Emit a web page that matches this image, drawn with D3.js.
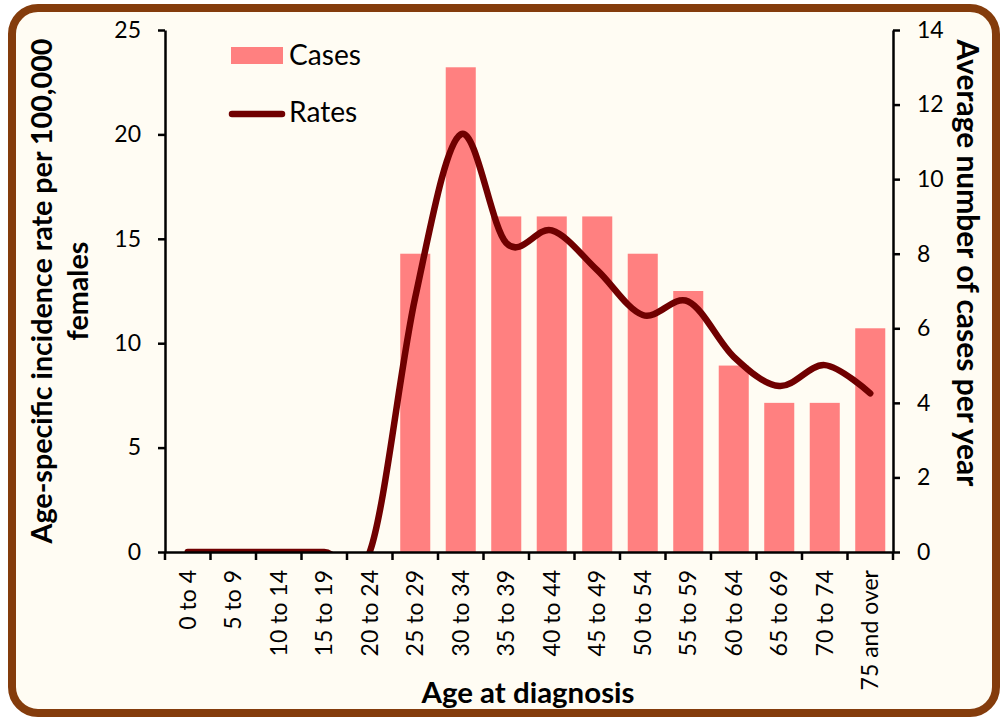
<!DOCTYPE html>
<html lang="en">
<head>
<meta charset="utf-8">
<title>Age-specific incidence and cases by age at diagnosis</title>
<script src="https://d3js.org/d3.v7.min.js"></script>
<style>
  body { margin: 0; background: #ffffff; }
  svg text { font-family: 'Lato', sans-serif; fill: #000; }
  .ttl { font-weight: bold; }
  .axis path, .axis line { stroke: #000; stroke-width: 2.5px; }
  .axis text { font-size: 23px; }
</style>
</head>
<body>
<div id="chart"></div>
<script>
// data
var ageGroups = ["0 to 4", "5 to 9", "10 to 14", "15 to 19", "20 to 24", "25 to 29",
  "30 to 34", "35 to 39", "40 to 44", "45 to 49", "50 to 54", "55 to 59",
  "60 to 64", "65 to 69", "70 to 74", "75 and over"];
var cases = [0, 0, 0, 0, 0, 8, 13, 9, 9, 9, 8, 7, 5, 4, 4, 6];
var rates = [0, 0, 0, 0, 0, 12.2, 20.0, 14.8, 15.4, 13.5, 11.35, 12.0, 9.35, 7.95, 8.95, 7.6];
var rateTicks = [0, 5, 10, 15, 20, 25];
var caseTicks = [0, 2, 4, 6, 8, 10, 12, 14];

var W = 1005, H = 718;
var plot = {left: 165, right: 893, top: 30, bottom: 552};

var svg = d3.select("#chart").append("svg")
  .attr("width", W).attr("height", H);

// frame
svg.append("rect")
  .attr("x", 12).attr("y", 8)
  .attr("width", 984).attr("height", 705)
  .attr("rx", 26).attr("ry", 26)
  .attr("fill", "#fffcf3")
  .attr("stroke", "#843c0c")
  .attr("stroke-width", 8);

// scales
var xCat = d3.scaleBand().domain(ageGroups).range([plot.left, plot.right]);
var xBar = d3.scaleBand().domain(ageGroups).range([plot.left, plot.right])
  .paddingInner(0.34).paddingOuter(0.17);
var yRate = d3.scaleLinear().domain([0, 25]).range([plot.bottom, plot.top]);
var yCase = d3.scaleLinear().domain([0, 14]).range([plot.bottom, plot.top]);

// bars (cases, right axis)
var barData = ageGroups.map(function(a, i) { return {age: a, value: cases[i]}; });
svg.append("g").selectAll("rect")
  .data(barData)
  .join("rect")
    .attr("x", function(d) { return xBar(d.age); })
    .attr("y", function(d) { return yCase(d.value); })
    .attr("width", xBar.bandwidth())
    .attr("height", function(d) { return yCase(0) - yCase(d.value); })
    .attr("fill", "#ff8080");

// smoothed rate line, clipped to the plot area
svg.append("clipPath").attr("id", "plotclip")
  .append("rect")
    .attr("x", plot.left).attr("y", plot.top)
    .attr("width", plot.right - plot.left).attr("height", plot.bottom - plot.top);

var rateData = ageGroups.map(function(a, i) { return {age: a, value: rates[i]}; });
var line = d3.line()
  .x(function(d) { return xCat(d.age) + xCat.bandwidth() / 2; })
  .y(function(d) { return yRate(d.value); })
  .curve(d3.curveCardinal.tension(0));

svg.append("path")
  .datum(rateData)
  .attr("clip-path", "url(#plotclip)")
  .attr("d", line)
  .attr("fill", "none")
  .attr("stroke", "#700000")
  .attr("stroke-width", 6.5)
  .attr("stroke-linecap", "round")
  .attr("stroke-linejoin", "round");

// left axis
svg.append("g")
  .attr("class", "axis")
  .attr("transform", "translate(" + plot.left + ",0)")
  .call(d3.axisLeft(yRate).tickValues(rateTicks).tickSize(7).tickSizeOuter(0).tickPadding(17));

// right axis
svg.append("g")
  .attr("class", "axis")
  .attr("transform", "translate(" + plot.right + ",0)")
  .call(d3.axisRight(yCase).tickValues(caseTicks).tickSize(7).tickSizeOuter(0).tickPadding(17));

// x axis: labels at band centres, ticks at band edges
var xg = svg.append("g")
  .attr("class", "axis")
  .attr("transform", "translate(0," + plot.bottom + ")")
  .call(d3.axisBottom(xCat).tickSize(0).tickSizeOuter(0));
xg.selectAll(".tick text")
  .attr("transform", "rotate(-90)")
  .attr("text-anchor", "end")
  .attr("x", -18)
  .attr("y", 0)
  .attr("dy", "0.35em");
var edges = ageGroups.map(function(a) { return xCat(a); }).concat([plot.right]);
xg.selectAll("line.edge")
  .data(edges)
  .join("line")
    .attr("class", "edge")
    .attr("x1", function(d) { return d; }).attr("x2", function(d) { return d; })
    .attr("y1", 0).attr("y2", 8);

// fit a text to a width measured on the reference
function fitWidth(sel, target) {
  var w = sel.node().getComputedTextLength();
  var fs = parseFloat(sel.style("font-size"));
  sel.style("font-size", (fs * target / w) + "px");
}

// axis titles
var cy = (plot.top + plot.bottom) / 2;
var t1 = svg.append("text").attr("class", "ttl")
  .attr("transform", "translate(52," + cy + ") rotate(-90)")
  .attr("text-anchor", "middle")
  .style("font-size", "26px")
  .text("Age-specific incidence rate per 100,000");
fitWidth(t1, 505);
var t2 = svg.append("text").attr("class", "ttl")
  .attr("transform", "translate(88," + cy + ") rotate(-90)")
  .attr("text-anchor", "middle")
  .style("font-size", t1.style("font-size"))
  .text("females");

var t3 = svg.append("text").attr("class", "ttl")
  .attr("transform", "translate(957,263) rotate(90)")
  .attr("text-anchor", "middle")
  .style("font-size", "26px")
  .text("Average number of cases per year");
fitWidth(t3, 447);

var t4 = svg.append("text").attr("class", "ttl")
  .attr("x", 528).attr("y", 703)
  .attr("text-anchor", "middle")
  .style("font-size", "26px")
  .text("Age at diagnosis");
fitWidth(t4, 213);

// legend
var legend = svg.append("g");
legend.append("rect")
  .attr("x", 231).attr("y", 47).attr("width", 52).attr("height", 17)
  .attr("fill", "#ff8080");
var l1 = legend.append("text")
  .attr("x", 289).attr("y", 65)
  .style("font-size", "26px")
  .text("Cases");
fitWidth(l1, 72);
legend.append("line")
  .attr("x1", 232).attr("x2", 282).attr("y1", 114).attr("y2", 114)
  .attr("stroke", "#700000").attr("stroke-width", 6.5).attr("stroke-linecap", "round");
legend.append("text")
  .attr("x", 289).attr("y", 122)
  .style("font-size", l1.style("font-size"))
  .text("Rates");
</script>
</body>
</html>
